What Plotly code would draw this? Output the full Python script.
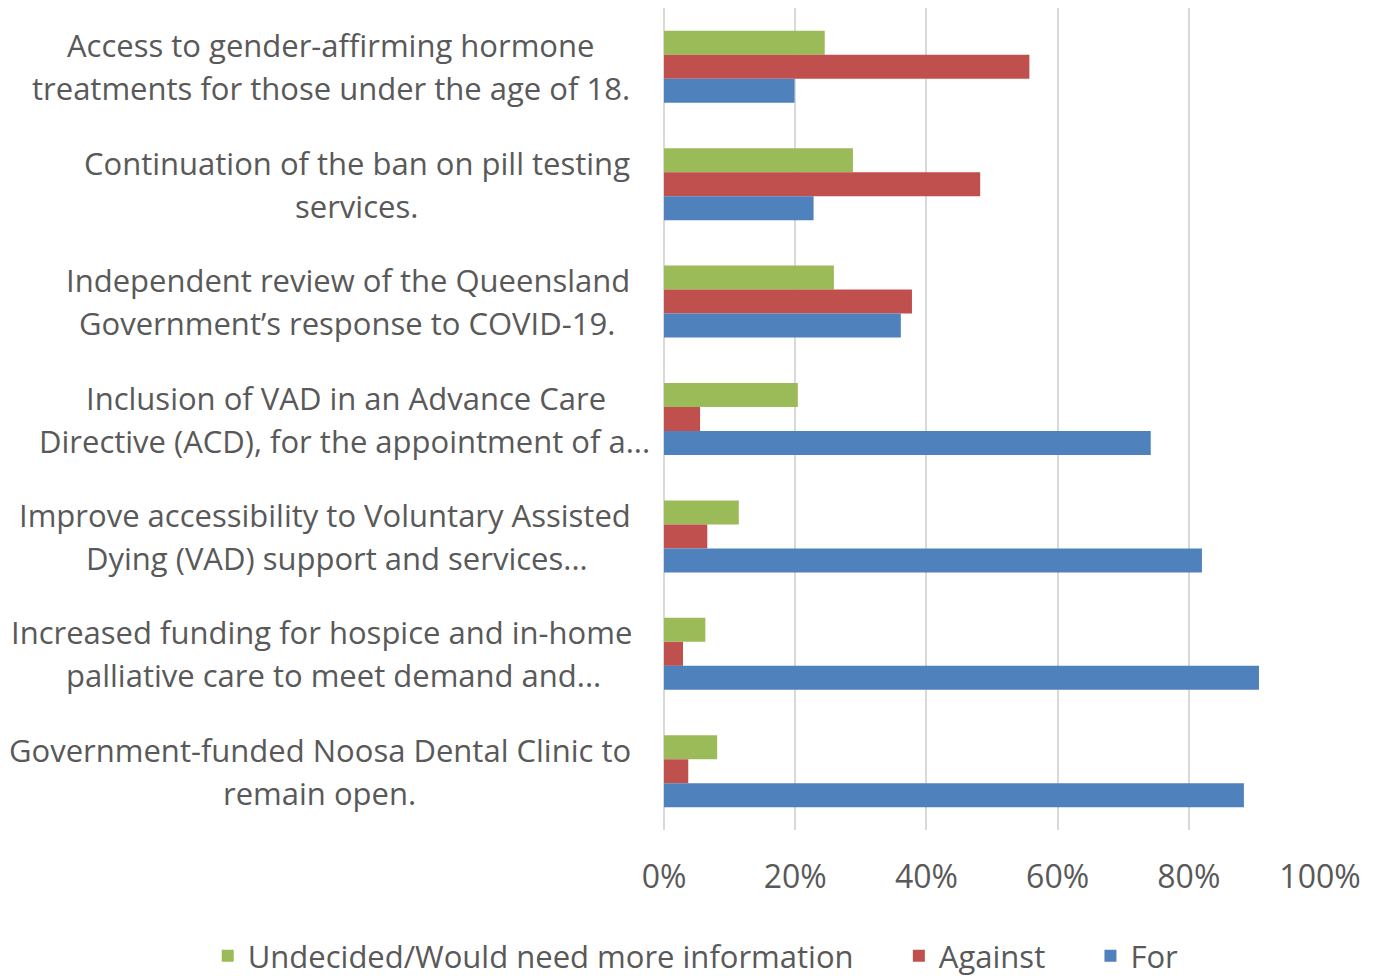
import plotly.graph_objects as go

categories = [
    "Access to gender-affirming hormone treatments for those under the age of 18.",
    "Continuation of the ban on pill testing services.",
    "Independent review of the Queensland Government’s response to COVID-19.",
    "Inclusion of VAD in an Advance Care Directive (ACD), for the appointment of a...",
    "Improve accessibility to Voluntary Assisted Dying (VAD) support and services...",
    "Increased funding for hospice and in-home palliative care to meet demand and...",
    "Government-funded Noosa Dental Clinic to remain open.",
]
label_lines = [
    ["Access to gender-affirming hormone", "treatments for those under the age of 18."],
    ["Continuation of the ban on pill testing", "services."],
    ["Independent review of the Queensland", "Government’s response to COVID-19."],
    ["Inclusion of VAD in an Advance Care", "Directive (ACD), for the appointment of a..."],
    ["Improve accessibility to Voluntary Assisted", "Dying (VAD) support and services..."],
    ["Increased funding for hospice and in-home", "palliative care to meet demand and..."],
    ["Government-funded Noosa Dental Clinic to", "remain open."],
]
undecided = [0.245, 0.288, 0.259, 0.204, 0.114, 0.063, 0.081]
against = [0.557, 0.482, 0.378, 0.055, 0.066, 0.029, 0.037]
for_vals = [0.199, 0.228, 0.361, 0.742, 0.820, 0.907, 0.884]
series_names = ["Undecided/Would need more information", "Against", "For"]
tick_vals = [0, 0.2, 0.4, 0.6, 0.8, 1.0]
tick_text = ["0%", "20%", "40%", "60%", "80%", "100%"]

# layout: horizontal pixel centre of each label line (page pixels)
line_centers = [
    [331, 331], [357, 357], [348, 347], [346, 345], [325, 337], [322, 334], [320, 320],
]
legend_pad = [5, 5, 0]  # trailing non-breaking spaces to widen legend spacing

colors = ["#9BBB59", "#C0504D", "#4F81BD"]
FONT = "Open Sans"
FS = 31
TXT = "#595959"

OFF = 8  # default page body margin
W, H = 1378 - OFF, 976 - OFF
PL, PR, PT, PB = 664, 1319.6, 8, 830  # plot area in page pixels
ML, MR, MT, MB = PL - OFF, W - (PR - OFF), PT - OFF, H - (PB - OFF)
plot_w = PR - PL
plot_h = PB - PT

fig = go.Figure()
for name, vals, col, pad in zip(series_names, [undecided, against, for_vals], colors, legend_pad):
    fig.add_trace(go.Bar(
        y=categories, x=vals, name=name + "\u00a0" * pad, orientation="h",
        marker=dict(color=col, line=dict(width=0)),
        hovertemplate=name + ": %{x:.0%}<extra></extra>",
    ))

annotations = []
for cat, lines, centers in zip(categories, label_lines, line_centers):
    n = len(lines)
    for i, (ln, cx) in enumerate(zip(lines, centers)):
        annotations.append(dict(
            text=ln, xref="paper", x=(cx - PL) / plot_w, yref="y", y=cat,
            xanchor="center", yanchor="middle", showarrow=False,
            yshift=(n - 1) / 2 * 43 - i * 43,
            font=dict(family=FONT, size=FS, color=TXT),
        ))

fig.update_layout(
    width=W, height=H,
    margin=dict(l=ML, r=MR, t=MT, b=MB, autoexpand=False),
    paper_bgcolor="white", plot_bgcolor="white",
    barmode="group", bargap=0.387, bargroupgap=0,
    font=dict(family=FONT, size=FS, color=TXT),
    xaxis=dict(
        range=[0, 1], tickvals=tick_vals, ticktext=tick_text,
        showgrid=True, gridcolor="#D9D9D9", gridwidth=2,
        zeroline=True, zerolinecolor="#D9D9D9", zerolinewidth=2,
        showline=False, ticks="", ticklabelstandoff=25,
        tickfont=dict(family=FONT, size=32, color=TXT),
    ),
    yaxis=dict(
        autorange="reversed", showticklabels=False, showgrid=False,
        zeroline=False, showline=False,
    ),
    legend=dict(
        orientation="h", xref="paper", yref="paper",
        x=(208 - PL) / plot_w, xanchor="left",
        y=-(956 - PB) / plot_h, yanchor="middle",
        font=dict(family=FONT, size=FS, color=TXT),
        itemclick=False,
    ),
    annotations=annotations,
    showlegend=True,
)

fig.write_html("out.html")
